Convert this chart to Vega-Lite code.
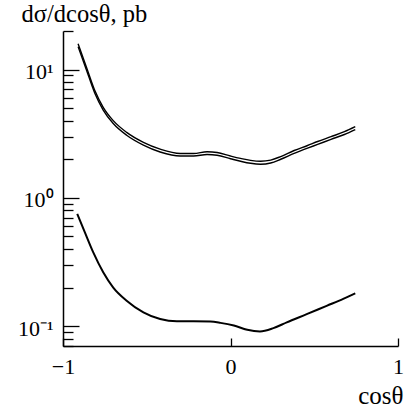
{
  "$schema": "https://vega.github.io/schema/vega-lite/v6.json",
  "width": 335,
  "height": 315,
  "autosize": {"type": "none"},
  "padding": {"left": 63, "top": 31, "right": 8, "bottom": 63},
  "background": "white",
  "config": {
    "view": {"stroke": null},
    "font": "Liberation Serif",
    "axis": {
      "domainColor": "black", "domainWidth": 1.5, "tickColor": "black", "tickWidth": 1.3,
      "labelColor": "black", "titleColor": "black", "labelFont": "Liberation Serif",
      "titleFont": "Liberation Serif", "labelFontSize": 22, "titleFontSize": 24.5,
      "titleFontWeight": "normal", "grid": false
    }
  },
  "datasets": {
    "curves": [
      {"c": -0.91, "v": 15.9, "s": "a1"}, {"c": -0.86, "v": 10.45, "s": "a1"}, {"c": -0.81, "v": 6.87, "s": "a1"},
      {"c": -0.76, "v": 5.08, "s": "a1"}, {"c": -0.70, "v": 4.0, "s": "a1"}, {"c": -0.62, "v": 3.24, "s": "a1"},
      {"c": -0.52, "v": 2.71, "s": "a1"}, {"c": -0.42, "v": 2.4, "s": "a1"}, {"c": -0.30, "v": 2.22, "s": "a1"},
      {"c": -0.22, "v": 2.22, "s": "a1"}, {"c": -0.14, "v": 2.29, "s": "a1"}, {"c": -0.08, "v": 2.26, "s": "a1"},
      {"c": 0.0, "v": 2.12, "s": "a1"}, {"c": 0.06, "v": 2.03, "s": "a1"}, {"c": 0.12, "v": 1.96, "s": "a1"},
      {"c": 0.18, "v": 1.93, "s": "a1"}, {"c": 0.24, "v": 1.97, "s": "a1"}, {"c": 0.30, "v": 2.1, "s": "a1"},
      {"c": 0.38, "v": 2.34, "s": "a1"}, {"c": 0.46, "v": 2.56, "s": "a1"}, {"c": 0.52, "v": 2.75, "s": "a1"},
      {"c": 0.60, "v": 3.0, "s": "a1"}, {"c": 0.68, "v": 3.28, "s": "a1"}, {"c": 0.745, "v": 3.59, "s": "a1"},
      {"c": -0.91, "v": 15.1, "s": "a2"}, {"c": -0.86, "v": 9.95, "s": "a2"}, {"c": -0.81, "v": 6.54, "s": "a2"},
      {"c": -0.76, "v": 4.84, "s": "a2"}, {"c": -0.70, "v": 3.8, "s": "a2"}, {"c": -0.62, "v": 3.08, "s": "a2"},
      {"c": -0.52, "v": 2.58, "s": "a2"}, {"c": -0.42, "v": 2.28, "s": "a2"}, {"c": -0.30, "v": 2.12, "s": "a2"},
      {"c": -0.22, "v": 2.12, "s": "a2"}, {"c": -0.14, "v": 2.18, "s": "a2"}, {"c": -0.08, "v": 2.15, "s": "a2"},
      {"c": 0.0, "v": 2.02, "s": "a2"}, {"c": 0.06, "v": 1.93, "s": "a2"}, {"c": 0.12, "v": 1.86, "s": "a2"},
      {"c": 0.18, "v": 1.83, "s": "a2"}, {"c": 0.24, "v": 1.87, "s": "a2"}, {"c": 0.30, "v": 2.0, "s": "a2"},
      {"c": 0.38, "v": 2.22, "s": "a2"}, {"c": 0.46, "v": 2.44, "s": "a2"}, {"c": 0.52, "v": 2.61, "s": "a2"},
      {"c": 0.60, "v": 2.86, "s": "a2"}, {"c": 0.68, "v": 3.12, "s": "a2"}, {"c": 0.745, "v": 3.41, "s": "a2"},
      {"c": -0.915, "v": 0.75, "s": "b"}, {"c": -0.87, "v": 0.54, "s": "b"}, {"c": -0.82, "v": 0.377, "s": "b"},
      {"c": -0.76, "v": 0.263, "s": "b"}, {"c": -0.70, "v": 0.2, "s": "b"}, {"c": -0.62, "v": 0.158, "s": "b"},
      {"c": -0.52, "v": 0.128, "s": "b"}, {"c": -0.42, "v": 0.1135, "s": "b"}, {"c": -0.32, "v": 0.109, "s": "b"},
      {"c": -0.22, "v": 0.109, "s": "b"}, {"c": -0.12, "v": 0.1085, "s": "b"}, {"c": -0.06, "v": 0.106, "s": "b"},
      {"c": 0.02, "v": 0.101, "s": "b"}, {"c": 0.10, "v": 0.0936, "s": "b"}, {"c": 0.176, "v": 0.091, "s": "b"},
      {"c": 0.256, "v": 0.0965, "s": "b"}, {"c": 0.336, "v": 0.107, "s": "b"}, {"c": 0.455, "v": 0.124, "s": "b"},
      {"c": 0.574, "v": 0.144, "s": "b"}, {"c": 0.673, "v": 0.163, "s": "b"}, {"c": 0.745, "v": 0.18, "s": "b"}
    ]
  },
  "data": {"name": "curves"},
  "encoding": {
    "x": {
      "field": "c", "type": "quantitative",
      "scale": {"domain": [-1, 1], "nice": false, "zero": false},
      "axis": {
        "values": [-1, 0, 1],
        "labelExpr": "datum.value < 0 ? '−1' : datum.value > 0 ? '1' : '0'",
        "labelOverlap": false, "tickSize": -8, "labelPadding": 18, "labelFlush": false,
        "title": "cosθ", "titleFontSize": 25, "titleAnchor": null, "titleAlign": "right", "titleBaseline": "alphabetic",
        "titleX": 340, "titleY": 57
      }
    },
    "y": {
      "field": "v", "type": "quantitative",
      "scale": {"type": "log", "domain": [0.07, 20], "nice": false},
      "axis": {
        "values": [0.07, 0.08, 0.09, 0.1, 0.2, 0.3, 0.4, 0.5, 0.6, 0.7, 0.8, 0.9, 1, 2, 3, 4, 5, 6, 7, 8, 9, 10, 20],
        "labelExpr": "datum.value == 10 ? '10¹' : datum.value == 1 ? '10⁰' : datum.value == 0.1 ? '10⁻¹' : ''",
        "labelOverlap": false, "labelFlush": false, "labelBound": false,
        "tickSize": {"condition": {"test": "datum.value == 0.1 || datum.value == 1 || datum.value == 10", "value": -16}, "value": -10},
        "labelPadding": 26, "labelOffset": 2,
        "title": "dσ/dcosθ, pb", "titleAngle": 0, "titleAnchor": null, "titleAlign": "left",
        "titleBaseline": "alphabetic", "titleX": -42, "titleY": -10
      }
    },
    "detail": {"field": "s"}
  },
  "layer": [
    {
      "transform": [{"filter": "datum.s != 'b'"}],
      "mark": {"type": "line", "color": "black", "strokeWidth": 1.4, "interpolate": "monotone"}
    },
    {
      "transform": [{"filter": "datum.s == 'b'"}],
      "mark": {"type": "line", "color": "black", "strokeWidth": 2, "interpolate": "monotone"}
    }
  ]
}
